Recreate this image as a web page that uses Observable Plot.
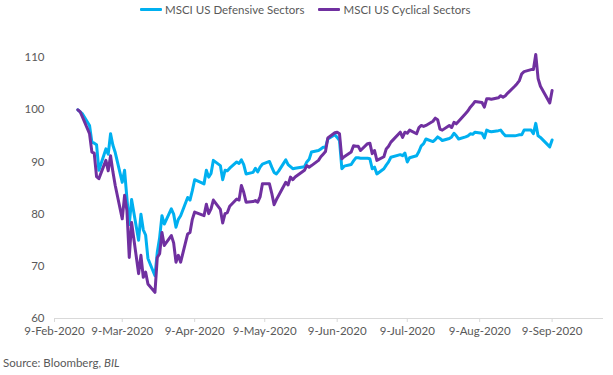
<!DOCTYPE html>
<html>
<head>
<meta charset="utf-8">
<script src="https://cdn.jsdelivr.net/npm/d3@7"></script>
<script src="https://cdn.jsdelivr.net/npm/@observablehq/plot@0.6"></script>
<style>
  body { margin: 0; background: #fff; }
  #wrap { position: relative; width: 613px; height: 375px; font-family: Lato, "Liberation Sans", sans-serif; color: #595959; overflow: hidden; }
  #legend { position: absolute; left: 140px; top: 0; height: 18px; display: flex; align-items: center; font-size: 11.5px; white-space: nowrap; }
  #legend .item { display: flex; align-items: center; margin-right: 14px; }
  #legend .sw { width: 22px; height: 3px; margin-right: 3px; border-radius: 1px; }
  #chart { position: absolute; left: 0; top: 20px; }
  #caption { position: absolute; left: 3px; top: 356px; font-size: 11.5px; white-space: nowrap; }
</style>
</head>
<body>
<div id="wrap">
  <div id="legend"></div>
  <div id="chart"></div>
  <div id="caption">Source: Bloomberg, <i>BIL</i></div>
</div>
<script>
const seriesNames = ["MSCI US Defensive Sectors", "MSCI US Cyclical Sectors"];
const seriesColors = ["#00B0F0", "#7030A0"];

const dates = [
  "2020-02-19","2020-02-20","2020-02-21","2020-02-24","2020-02-25","2020-02-26","2020-02-27","2020-02-28",
  "2020-03-02","2020-03-03","2020-03-04","2020-03-05","2020-03-06","2020-03-09","2020-03-10","2020-03-11","2020-03-12","2020-03-13",
  "2020-03-16","2020-03-17","2020-03-18","2020-03-19","2020-03-20","2020-03-23","2020-03-24","2020-03-25","2020-03-26","2020-03-27","2020-03-30","2020-03-31",
  "2020-04-01","2020-04-02","2020-04-03","2020-04-06","2020-04-07","2020-04-08","2020-04-09","2020-04-13","2020-04-14","2020-04-15","2020-04-16","2020-04-17",
  "2020-04-20","2020-04-21","2020-04-22","2020-04-23","2020-04-24","2020-04-27","2020-04-28","2020-04-29","2020-04-30",
  "2020-05-01","2020-05-04","2020-05-05","2020-05-06","2020-05-07","2020-05-08","2020-05-11","2020-05-12","2020-05-13","2020-05-14","2020-05-15",
  "2020-05-18","2020-05-19","2020-05-20","2020-05-21","2020-05-22","2020-05-26","2020-05-27","2020-05-28","2020-05-29",
  "2020-06-01","2020-06-02","2020-06-03","2020-06-04","2020-06-05","2020-06-08","2020-06-09","2020-06-10","2020-06-11","2020-06-12",
  "2020-06-15","2020-06-16","2020-06-17","2020-06-18","2020-06-19","2020-06-22","2020-06-23","2020-06-24","2020-06-25","2020-06-26","2020-06-29","2020-06-30",
  "2020-07-01","2020-07-02","2020-07-06","2020-07-07","2020-07-08","2020-07-09","2020-07-10","2020-07-13","2020-07-14","2020-07-15","2020-07-16","2020-07-17",
  "2020-07-20","2020-07-21","2020-07-22","2020-07-23","2020-07-24","2020-07-27","2020-07-28","2020-07-29","2020-07-30","2020-07-31",
  "2020-08-03","2020-08-04","2020-08-05","2020-08-06","2020-08-07","2020-08-10","2020-08-11","2020-08-12","2020-08-13","2020-08-14",
  "2020-08-17","2020-08-18","2020-08-19","2020-08-20","2020-08-21","2020-08-24","2020-08-25","2020-08-26","2020-08-27","2020-08-28","2020-08-31",
  "2020-09-01","2020-09-02","2020-09-03","2020-09-04","2020-09-08","2020-09-09"
];

const defensive = [
  100, 99.6, 99.2, 97.0, 93.8, 93.6, 93.3, 88.4,
  92.5, 91.5, 95.4, 93.2, 91.8, 86.1, 88.4, 83.0, 78.0, 82.8,
  75.0, 80.0, 77.0, 76.0, 71.5, 68.2, 72.7, 75.5, 79.7, 78.1, 81.0, 80.0,
  77.5, 79.0, 79.7, 83.2, 82.7, 84.5, 86.6, 85.8, 88.4, 87.1, 87.8, 90.3,
  89.3, 86.6, 88.4, 88.3, 88.8, 90.0, 89.7, 90.4, 89.5,
  87.7, 88.0, 88.8, 88.1, 89.0, 89.6, 90.1, 89.0, 88.0, 87.7, 88.3,
  90.4, 89.5, 89.1, 88.7, 88.8, 89.1, 90.0, 90.5, 91.9,
  92.2, 92.5, 92.8, 92.8, 94.4, 95.2, 94.7, 94.1, 88.7, 89.2,
  89.5, 90.2, 90.8, 90.8, 90.7, 90.7, 90.6, 88.7, 89.0, 87.7, 88.7, 89.4,
  90.0, 90.9, 91.4, 91.2, 91.7, 90.0, 90.8, 91.2, 92.0, 93.1, 93.5, 94.4,
  93.9, 94.3, 94.8, 94.5, 94.1, 94.5, 94.8, 95.5, 95.0, 94.4,
  94.8, 95.0, 95.4, 95.3, 95.7, 95.5, 94.6, 96.1, 95.9, 95.8,
  96.0, 96.1, 95.5, 95.0, 95.0, 95.0, 95.1, 95.2, 95.2, 96.1, 96.1,
  95.4, 97.4, 95.0, 94.7, 92.9, 94.2
];

const cyclical = [
  100, 99.6, 98.6, 95.4, 91.9, 91.7, 87.2, 86.8,
  90.3, 88.3, 91.2, 88.1, 85.5, 79.1, 83.6, 80.7, 71.7, 78.4,
  68.6, 72.1, 67.9, 68.9, 66.6, 65.0, 71.7, 72.4, 76.5, 74.0, 75.9, 74.5,
  70.8, 72.1, 70.8, 76.2, 76.5, 79.0, 80.4, 79.7, 81.9, 80.1, 81.0, 82.7,
  80.9, 78.3, 80.1, 80.3, 81.5, 82.9, 82.7, 85.5, 84.2,
  82.3, 82.4, 82.6, 82.3, 83.3, 85.8, 85.8, 84.0, 81.8, 82.8, 83.6,
  86.1, 85.6, 87.1, 86.6, 87.1, 88.4, 89.3, 89.0, 89.3,
  90.3, 91.0, 91.5, 92.0, 94.6, 95.6, 95.7, 95.4, 90.6, 91.0,
  91.9, 93.1, 93.0, 93.0, 92.2, 93.5, 93.6, 91.6, 92.2, 90.3, 91.0, 92.5,
  93.0, 93.8, 95.7, 94.7, 95.7, 95.5, 96.1, 95.4, 96.6, 97.0, 96.8, 97.0,
  97.8, 98.4, 98.1, 96.3, 96.1, 97.0, 96.6, 97.6, 97.3, 97.8,
  99.3, 99.8, 100.5, 101.0, 101.6, 101.4, 100.5, 102.1, 102.1, 102.0,
  102.3, 102.7, 102.4, 102.7, 103.2, 104.5, 105.0, 105.6, 106.9, 107.3, 107.7,
  107.7, 110.6, 106.0, 104.5, 101.3, 103.7
];

const yTicks = [60, 70, 80, 90, 100, 110];
const xTickDates = ["2020-02-09","2020-03-09","2020-04-09","2020-05-09","2020-06-09","2020-07-09","2020-08-09","2020-09-09"];
const xTickLabels = ["9-Feb-2020","9-Mar-2020","9-Apr-2020","9-May-2020","9-Jun-2020","9-Jul-2020","9-Aug-2020","9-Sep-2020"];
const xDomain = ["2020-02-09", "2020-10-01"];
const yDomain = [60, 115];

const parse = d3.utcParse("%Y-%m-%d");
const rows = [];
[defensive, cyclical].forEach((vals, s) => {
  vals.forEach((v, i) => rows.push({ date: parse(dates[i]), value: v, series: seriesNames[s] }));
});
const tickDates = xTickDates.map(parse);
const labelOf = new Map(tickDates.map((d, i) => [+d, xTickLabels[i]]));

const chart = Plot.plot({
  width: 613,
  height: 320,
  marginLeft: 54,
  marginRight: 10,
  marginTop: 11,
  marginBottom: 22,
  style: { fontFamily: "Lato, 'Liberation Sans', sans-serif", fontSize: "11.5px", color: "#595959", background: "#fff", overflow: "visible" },
  x: { type: "utc", domain: xDomain.map(parse) },
  y: { domain: yDomain },
  color: { domain: seriesNames, range: seriesColors },
  marks: [
    Plot.axisY({ ticks: yTicks, tickSize: 0, tickPadding: 10, label: null, fill: "#595959" }),
    Plot.ruleY([yDomain[0]], { stroke: "#D9D9D9", strokeWidth: 1 }),
    Plot.axisX({ ticks: tickDates, tickFormat: d => labelOf.get(+d), tickSize: 4, tickPadding: 4, stroke: "#D9D9D9", fill: "#595959", label: null }),
    Plot.line(rows, { x: "date", y: "value", z: "series", stroke: "series", strokeWidth: 3, strokeLinejoin: "round", strokeLinecap: "round" })
  ]
});
document.getElementById("chart").appendChild(chart);

const legend = document.getElementById("legend");
seriesNames.forEach((name, i) => {
  const item = document.createElement("div");
  item.className = "item";
  const sw = document.createElement("div");
  sw.className = "sw";
  sw.style.background = seriesColors[i];
  const t = document.createElement("span");
  t.textContent = name;
  item.appendChild(sw);
  item.appendChild(t);
  legend.appendChild(item);
});
</script>
</body>
</html>
